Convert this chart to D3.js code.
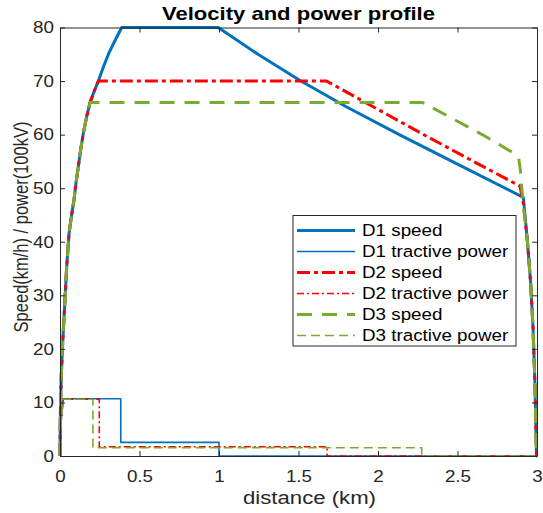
<!DOCTYPE html>
<html>
<head>
<meta charset="utf-8">
<script src="https://cdn.jsdelivr.net/npm/d3@7"></script>
<style>
  body { margin: 0; background: #fff; }
  text { font-family: "Liberation Sans", Arial, sans-serif; fill: #262626; }
  /* the reference is a bit stretched horizontally */
  .wide { transform-box: fill-box; transform: scaleX(1.14); }
</style>
</head>
<body>
<svg></svg>
<script>
//shared acceleration curve (km, km/h)
const accelDist = [0, 0.001, 0.004, 0.009, 0.015, 0.021, 0.03, 0.042, 0.057, 0.072, 0.088, 0.1, 0.115, 0.13, 0.147, 0.168, 0.189, 0.215, 0.241, 0.275, 0.31, 0.35, 0.388];
const accelSpeed = [0, 5, 10.4, 15.6, 20, 23.5, 28.5, 35.3, 41.6, 44.8, 47.8, 50.8, 54, 57.2, 60.3, 63.4, 66, 68.1, 70, 72.8, 75.4, 77.8, 80];

//speed after the acceleration phase
const d1TailDist = [0.995, 1.25, 1.51, 1.8, 2.14, 2.5, 2.914, 2.94, 2.96, 2.975, 2.987, 2.997, 3.0];
const d1TailSpeed = [80, 74.9, 70.1, 65.2, 59.9, 54.5, 48.3, 40, 32.3, 24, 13.6, 0, 0];
const d2TailDist = [1.677, 2.0, 2.3, 2.6, 2.893, 2.915, 2.94, 2.96, 2.975, 2.987, 2.997, 3.0];
const d2TailSpeed = [70, 64.7, 59.8, 55, 50.4, 47, 40, 32.3, 24, 13.6, 0, 0];
const d3TailDist = [2.281, 2.48, 2.68, 2.862, 2.885, 2.895, 2.91, 2.94, 2.96, 2.975, 2.987, 2.997, 3.0];
const d3TailSpeed = [66, 62.8, 59.6, 56.4, 55.6, 53.5, 48, 40, 32.3, 24, 13.6, 0, 0];

//tractive power (100kV)
const d1PowerDist = [0, 0.006, 0.02, 0.382, 0.382, 1.0, 1.0, 3.0];
const d1Power = [0, 6, 10.7, 10.7, 2.55, 2.55, 0, 0];
const d2PowerDist = [0, 0.006, 0.02, 0.247, 0.247, 1.68, 1.68, 3.0];
const d2Power = [0, 6, 10.6, 10.6, 1.72, 1.72, 0, 0];
const d3PowerDist = [0, 0.006, 0.02, 0.207, 0.207, 2.275, 2.275, 3.0];
const d3Power = [0, 6, 10.6, 10.6, 1.55, 1.55, 0, 0];

const xTicks = [0, 0.5, 1, 1.5, 2, 2.5, 3];
const yTicks = [0, 10, 20, 30, 40, 50, 60, 70, 80];
const legendLabels = ['D1 speed', 'D1 tractive power', 'D2 speed', 'D2 tractive power', 'D3 speed', 'D3 tractive power'];

const w = 543;
const h = 513;
const padLeft = 60, padRight = 537, padTop = 27.5, padBottom = 456;

const blue = '#0072BD', red = '#FF0000', green = '#77AC30';

const svg = d3.select('svg').attr('width', w).attr('height', h);

const xScale = d3.scaleLinear().domain([0, 3]).range([padLeft, padRight]);
const yScale = d3.scaleLinear().domain([0, 80]).range([padBottom, padTop]);

//build speed profile = accel curve up to the plateau + tail
const speedProfile = (plateau, tailDist, tailSpeed) => {
    let pts = [];
    accelDist.forEach((d, i) => {
        if (accelSpeed[i] <= plateau) pts.push([d, accelSpeed[i]]);
    });
    tailDist.forEach((d, i) => pts.push([d, tailSpeed[i]]));
    return pts;
}
const zip = (a, b) => a.map((d, i) => [d, b[i]]);

const series = [
    { pts: speedProfile(80, d1TailDist, d1TailSpeed), color: blue, width: 3, dash: null },
    { pts: zip(d1PowerDist, d1Power), color: blue, width: 1.6, dash: null },
    { pts: speedProfile(70, d2TailDist, d2TailSpeed), color: red, width: 3, dash: '13,4,4,4' },
    { pts: zip(d2PowerDist, d2Power), color: red, width: 1.6, dash: '7,3,2,3' },
    { pts: speedProfile(66, d3TailDist, d3TailSpeed), color: green, width: 3, dash: '15,10' },
    { pts: zip(d3PowerDist, d3Power), color: green, width: 1.6, dash: '9,5' }
];

const line = d3.line().x(d => xScale(d[0])).y(d => yScale(d[1]));

svg.append('defs').append('clipPath').attr('id', 'clip')
    .append('rect')
    .attr('x', padLeft - 2).attr('y', padTop - 2)
    .attr('width', padRight - padLeft + 4).attr('height', padBottom - padTop + 4);

const plot = svg.append('g').attr('clip-path', 'url(#clip)');
series.forEach(s => {
    plot.append('path')
        .attr('d', line(s.pts))
        .attr('fill', 'none')
        .attr('stroke', s.color)
        .attr('stroke-width', s.width)
        .attr('stroke-dasharray', s.dash)
        .attr('stroke-linejoin', 'round');
});

//axes, MATLAB style box with inner ticks
const axisStyle = g => {
    g.select('.domain').attr('stroke', '#262626').attr('stroke-width', 1);
    g.selectAll('.tick line').attr('stroke', '#262626');
    g.selectAll('.tick text').style('font-size', '16.5px').attr('fill', '#262626');
}
svg.append('g')
    .attr('transform', 'translate(0,' + padBottom + ')')
    .call(d3.axisBottom(xScale).tickValues(xTicks).tickSize(-5).tickSizeOuter(0).tickPadding(14).tickFormat(d3.format('')))
    .call(axisStyle)
    .selectAll('.tick text').classed('wide', true).style('transform-origin', 'center');
svg.append('g')
    .attr('transform', 'translate(0,' + padTop + ')')
    .call(d3.axisTop(xScale).tickValues(xTicks).tickSize(-5).tickSizeOuter(0).tickFormat(''))
    .call(axisStyle);
svg.append('g')
    .attr('transform', 'translate(' + padLeft + ',0)')
    .call(d3.axisLeft(yScale).tickValues(yTicks).tickSize(-5).tickSizeOuter(0).tickPadding(6))
    .call(axisStyle)
    .selectAll('.tick text').classed('wide', true).style('transform-origin', 'right center');
svg.append('g')
    .attr('transform', 'translate(' + padRight + ',0)')
    .call(d3.axisRight(yScale).tickValues(yTicks).tickSize(-5).tickSizeOuter(0).tickFormat(''))
    .call(axisStyle);

//title and labels
svg.append('text')
    .attr('x', 298.5).attr('y', 19.5)
    .attr('text-anchor', 'middle')
    .attr('textLength', 273).attr('lengthAdjust', 'spacingAndGlyphs')
    .style('font-size', '17.7px').style('font-weight', 'bold')
    .style('fill', '#000')
    .text('Velocity and power profile');
svg.append('text')
    .attr('x', 309.5).attr('y', 504)
    .attr('text-anchor', 'middle')
    .attr('textLength', 133).attr('lengthAdjust', 'spacingAndGlyphs')
    .style('font-size', '17.5px')
    .text('distance (km)');
svg.append('text')
    .attr('transform', 'translate(27.5,227) scale(1.18,1) rotate(-90)')
    .attr('text-anchor', 'middle')
    .style('font-size', '16.5px')
    .text('Speed(km/h) / power(100kV)');

//legend
const lg = svg.append('g');
lg.append('rect')
    .attr('x', 293).attr('y', 215.5)
    .attr('width', 223).attr('height', 130.5)
    .attr('fill', '#fff').attr('stroke', '#262626').attr('stroke-width', 1);
legendLabels.forEach((label, i) => {
    let y = 230.5 + i * 21;
    lg.append('line')
        .attr('x1', 297).attr('x2', 355).attr('y1', y).attr('y2', y)
        .attr('stroke', series[i].color)
        .attr('stroke-width', series[i].width)
        .attr('stroke-dasharray', series[i].dash);
    lg.append('text')
        .attr('x', 362).attr('y', y + 6)
        .attr('class', 'wide')
        .style('transform-origin', 'left center')
        .style('font-size', '16.5px')
        .style('fill', '#000')
        .text(label);
});
</script>
</body>
</html>
